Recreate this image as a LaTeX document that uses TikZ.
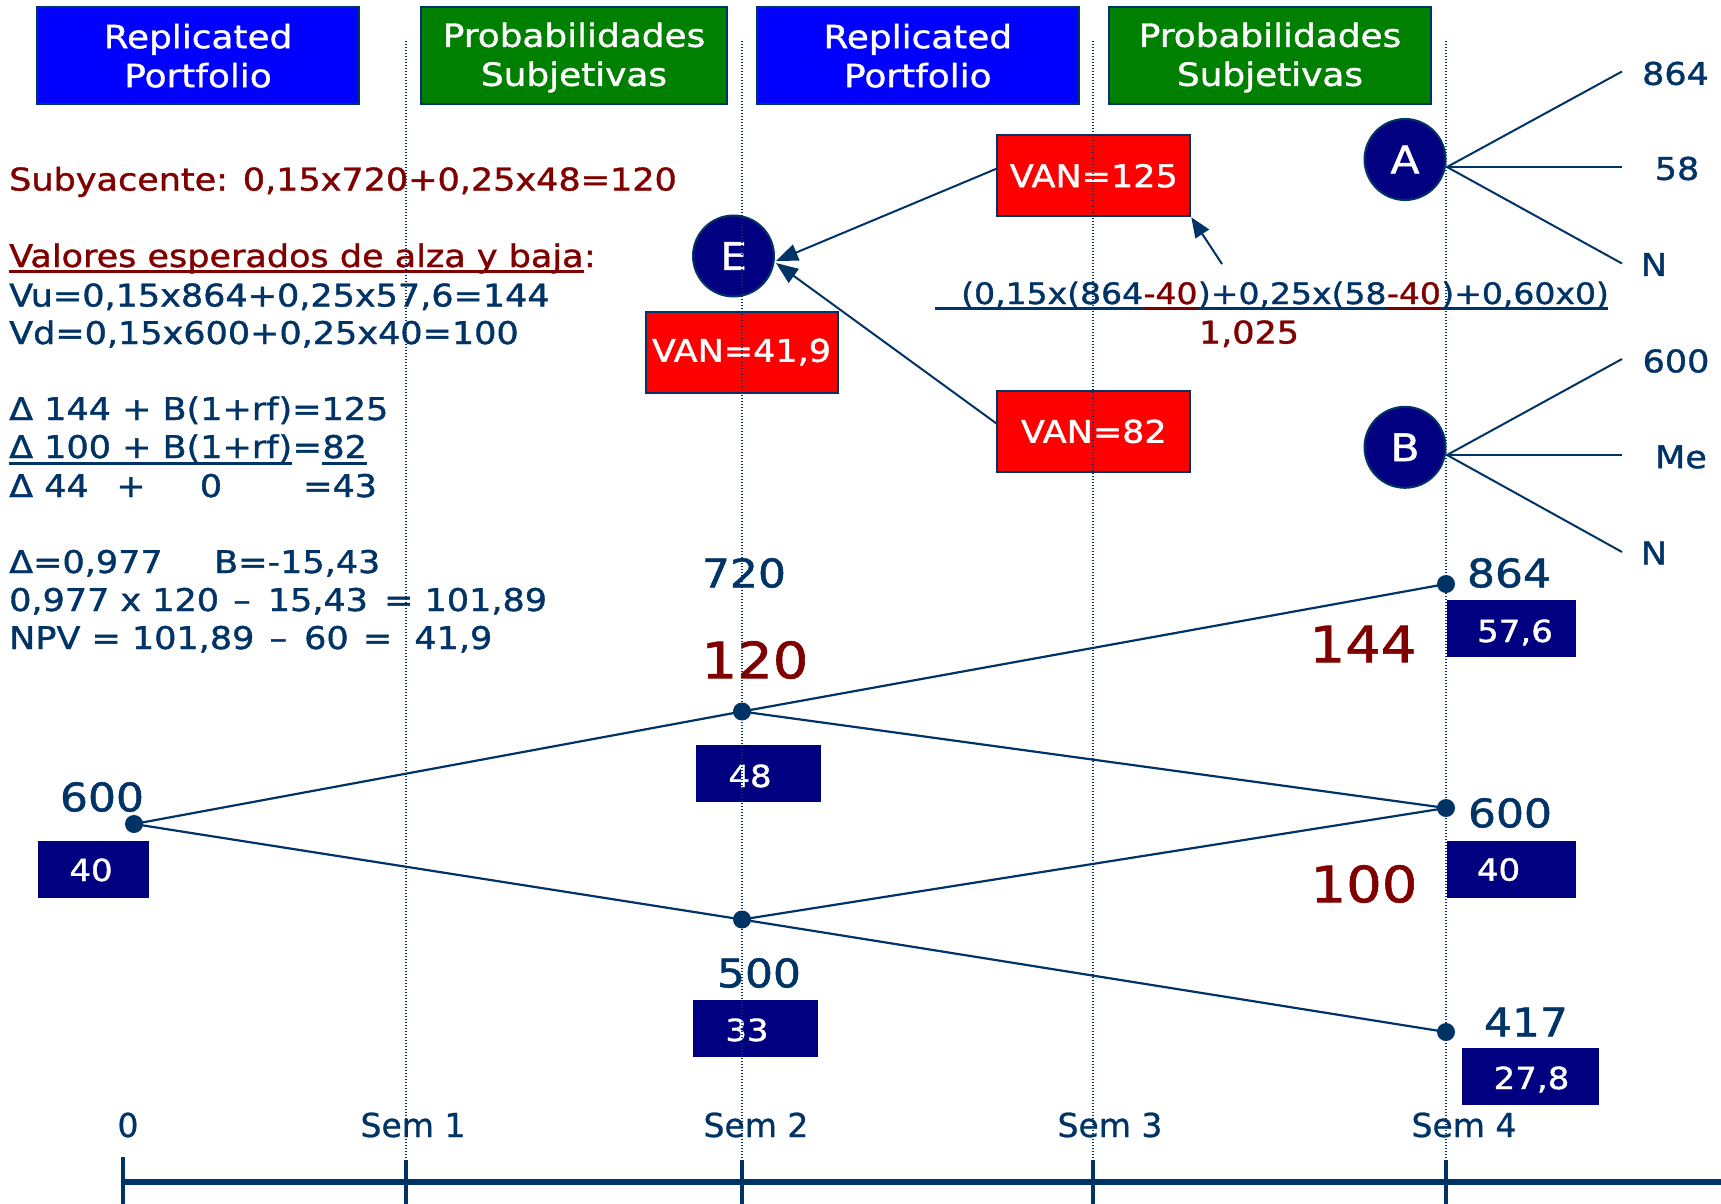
\documentclass[tikz,border=0pt]{standalone}
\usepackage{fontspec}
\setmainfont{DejaVu Sans}[FakeStretch=1.12,FakeBold=1.2]
\newfontfamily\axisfont{DejaVu Sans}[FakeBold=0.8]
\usetikzlibrary{arrows.meta,calc}

\definecolor{navyline}{HTML}{003366}
\definecolor{navyfill}{HTML}{000080}
\definecolor{maroon}{HTML}{800000}
\definecolor{hdrblue}{HTML}{0000FF}
\definecolor{hdrgreen}{HTML}{008000}
\definecolor{vanred}{HTML}{FF0000}

\newcommand{\setfs}[1]{\fontsize{#1}{#1}\selectfont}
\newcommand{\hdrstrut}{\rule[-4pt]{0pt}{32pt}}

\tikzset{
  hdr/.style={draw=navyline, line width=2pt, minimum height=97.5pt, inner sep=0pt,
    text=white, align=center, font=\fontsize{32}{39}\selectfont},
  vanbox/.style={draw=navyline, line width=2pt, fill=vanred, text=white,
    minimum width=193pt, minimum height=81pt, inner sep=0pt, font=\setfs{31.25}},
  valbox/.style={fill=navyfill, minimum height=57pt, inner sep=0pt},
  valtxt/.style={anchor=base, inner sep=0pt, text=white, font=\setfs{30.4}},
  price/.style={inner sep=0pt, text=navyline, font=\setfs{39.3}},
  expval/.style={inner sep=0pt, text=maroon, font=\setfs{50}},
  knot/.style={circle, fill=navyline, minimum size=18pt, inner sep=0pt},
  branch/.style={draw=navyline, line width=2.2pt},
  chance/.style={circle, fill=navyfill, draw=navyline, line width=2pt,
    minimum size=81pt, inner sep=0pt, text=white, font=\setfs{38}},
  note/.style={anchor=base west, inner sep=0pt, text=navyline, font=\setfs{31.25}},
  frac/.style={anchor=base west, inner sep=0pt, text=navyline, font=\setfs{29.5}},
  outcome/.style={inner sep=0pt, text=navyline, font=\setfs{31.25}},
  axislbl/.style={anchor=base, inner sep=0pt, text=navyline, font=\axisfont\setfs{33}},
  gridline/.style={navyline, line width=1.3pt, dash pattern=on 1.3pt off 1.7pt},
  pointer/.style={draw=navyline, line width=2pt, -{Triangle[length=22pt,width=17pt]}},
  smallpointer/.style={draw=navyline, line width=2pt, -{Triangle[length=20pt,width=16pt]}},
}

\begin{document}
\begin{tikzpicture}[x=1pt,y=-1pt]
\useasboundingbox (0,0) rectangle (1721,1204);
\fill[white] (0,0) rectangle (1721,1204);

% column headers
\node[hdr, fill=hdrblue,  minimum width=322pt] (h1) at (198,55.7)   {\hdrstrut Replicated\\\hdrstrut Portfolio};
\node[hdr, fill=hdrgreen, minimum width=306pt] (h2) at (574,55.7)   {\hdrstrut Probabilidades\\\hdrstrut Subjetivas};
\node[hdr, fill=hdrblue,  minimum width=322pt] (h3) at (917.8,55.7) {\hdrstrut Replicated\\\hdrstrut Portfolio};
\node[hdr, fill=hdrgreen, minimum width=322pt] (h4) at (1270,55.7)  {\hdrstrut Probabilidades\\\hdrstrut Subjetivas};

% left-hand calculations
\node[note, text=maroon] (sub) at (9,190.5) {Subyacente: 0,15x720+0,25x48=120};
\node[note, text=maroon] (val) at (9,267) {Valores esperados de alza y baja};
\node[note, text=maroon] (valc) at (val.base east) {:};
\draw[maroon, line width=3pt] ($(val.base west)+(0,4.5)$) -- ($(val.base east)+(0,4.5)$);
\node[note] (vu) at (9,306.5) {Vu=0,15x864+0,25x57,6=144};
\node[note] (vd) at (9,344) {Vd=0,15x600+0,25x40=100};

\node[note] (eqa) at (9,420) {Δ 144 + B(1+rf)=125};
\node[note] (eqb1) at (9,458) {Δ 100 + B(1+rf)};
\node[note] (eqb2) at (eqb1.base east) {=};
\node[note] (eqb3) at (eqb2.base east) {82};
\draw[navyline, line width=3.5pt] ($(eqb1.base west)+(0,5.5)$) -- ($(eqb1.base east)+(0,5.5)$);
\draw[navyline, line width=3.5pt] ($(eqb3.base west)+(0,5.5)$) -- ($(eqb3.base east)+(0,5.5)$);
\node[note] (eqc1) at (9,497) {Δ 44};
\node[note, anchor=base] (eqc2) at (131,497) {+};
\node[note, anchor=base] (eqc3) at (211,497) {0};
\node[note] (eqc4) at (303,497) {=43};

\node[note] (delta) at (9,573) {Δ=0,977};
\node[note] (bond) at (214,573) {B=-15,43};
\node[note] (repl) at (9,611) {0,977 x 120\ \hspace{3pt}–\hspace{6pt}\ 15,43\ \hspace{5pt}=\ 101,89};
\node[note] (npv) at (9,649) {NPV = 101,89\ \hspace{4pt}–\hspace{6pt}\ 60\ \hspace{3pt}=~~41,9};

% binomial tree
\node[knot] (r)  at (134,824) {};
\node[knot] (u)  at (742,711.5) {};
\node[knot] (d)  at (742,919.5) {};
\node[knot] (uu) at (1446,584) {};
\node[knot] (ud) at (1446,808) {};
\node[knot] (dd) at (1446,1032) {};
\draw[branch] (r.center) -- (u.center) -- (uu.center);
\draw[branch] (r.center) -- (d.center) -- (dd.center);
\draw[branch] (u.center) -- (ud.center) -- (d.center);

\node[price] (pr)  at (102,797)  {600};
\node[price] (pu)  at (744,573)  {720};
\node[price] (pd)  at (759,973)  {500};
\node[price] (puu) at (1509,573) {864};
\node[price] (pud) at (1510,813) {600};
\node[price] (pdd) at (1526,1022) {417};

\node[expval] (eu)  at (755,660)  {120};
\node[expval] (euu) at (1363,644) {144};
\node[expval] (eud) at (1364,884) {100};

\node[valbox, minimum width=111pt] (br)  at (93.5,869.5)  {};
\node[valbox, minimum width=125pt] (bu)  at (758.5,773.5) {};
\node[valbox, minimum width=125pt] (bd)  at (755.5,1028.5) {};
\node[valbox, minimum width=129pt] (buu) at (1511,628.5)  {};
\node[valbox, minimum width=129pt] (bud) at (1511,869)    {};
\node[valbox, minimum width=137pt] (bdd) at (1530,1076.5) {};
\node[valtxt] (vr)  at (91,881)      {40};
\node[valtxt] (vu2) at (750,787)     {48};
\node[valtxt] (vd2) at (747,1041)    {33};
\node[valtxt] (vuu) at (1515,642)    {57,6};
\node[valtxt] (vud) at (1498.5,880.6) {40};
\node[valtxt] (vdd) at (1531.5,1089) {27,8};

% chance nodes A and B with their outcomes
\node[chance] (A) at (1405,159.5) {A};
\node[chance] (B) at (1405,447.3) {B};
\coordinate (Ao) at ($(A.east)+(0.5,7.5)$);
\coordinate (Bo) at ($(B.east)+(0.5,7.7)$);
\coordinate (A1) at (1622,71.5);
\coordinate (A2) at (1622,167);
\coordinate (A3) at (1622,263.5);
\coordinate (B1) at (1622,359);
\coordinate (B2) at (1622,455);
\coordinate (B3) at (1622,552);
\draw[branch, line width=2pt] (A1) -- (Ao) -- (A3);
\draw[branch, line width=2pt] (Ao) -- (A2);
\draw[branch, line width=2pt] (B1) -- (Bo) -- (B3);
\draw[branch, line width=2pt] (Bo) -- (B2);
\node[outcome] (oA1) at (1675.5,73.5) {864};
\node[outcome] (oA2) at (1677,168.5) {58};
\node[outcome] (oA3) at (1654,264.5) {N};
\node[outcome] (oB1) at (1676,361) {600};
\node[outcome] (oB2) at (1681,457) {Me};
\node[outcome] (oB3) at (1654,553) {N};

% option values
\node[vanbox] (v125) at (1093.8,175.8) {VAN=125};
\node[vanbox] (v82)  at (1093.8,431.4) {VAN=82};
\node[vanbox, minimum width=192pt] (v419) at (741.5,352) {VAN=41,9};
\node[chance] (E) at (733.5,256) {E};
\draw[pointer] ($(v125.west)+(0,-7)$) -- ($(E.east)+(1,5)$);
\draw[pointer] ($(v82.west)+(0,-8)$) -- ($(E.east)+(1,7)$);

% discounted payoff of the up state
\node[frac] (f1) at (961,304) {(0,15x(864};
\node[frac, text=maroon] (f2) at (f1.base east) {-40};
\node[frac] (f3) at (f2.base east) {)+0,25x(58};
\node[frac, text=maroon] (f4) at (f3.base east) {-40};
\node[frac] (f5) at (f4.base east) {)+0,60x0)};
\coordinate (ulL) at (935,308.5);
\coordinate (ulR) at (1608,308.5);
\draw[navyline, line width=3pt] (ulL) -- (ulR);
\draw[maroon, line width=3pt] (f2.west |- ulL) -- (f2.east |- ulL);
\draw[maroon, line width=3pt] (f4.west |- ulL) -- (f4.east |- ulL);
\node[outcome, text=maroon, anchor=base] (den) at (1249,343.5) {1,025};
\coordinate (fa) at (1222,264);
\draw[smallpointer] (fa) -- (v125.south east);

% time axis
\coordinate (x0) at (123,1182);
\coordinate (x1) at (406,1182);
\coordinate (x2) at (742,1182);
\coordinate (x3) at (1093,1182);
\coordinate (x4) at (1446,1182);
\coordinate (xe) at (1721,1182);
\draw[navyline, line width=5.5pt] (x0) -- (xe);
\draw[navyline, line width=3.5pt] (123,1157) -- (123,1204);
\foreach \c in {x1,x2,x3,x4}
  \draw[navyline, line width=3.5pt] ($(\c)+(0,-22)$) -- ($(\c)+(0,22)$);
\node[axislbl] (l0) at (128,1137)  {0};
\node[axislbl] (l1) at (413,1137)  {Sem 1};
\node[axislbl] (l2) at (756,1137)  {Sem 2};
\node[axislbl] (l3) at (1110,1137) {Sem 3};
\node[axislbl] (l4) at (1464,1137) {Sem 4};

% period guide lines
\foreach \xx in {406,742,1093,1446}
  \draw[gridline] (\xx,41) -- (\xx,1160);
\end{tikzpicture}
\end{document}
